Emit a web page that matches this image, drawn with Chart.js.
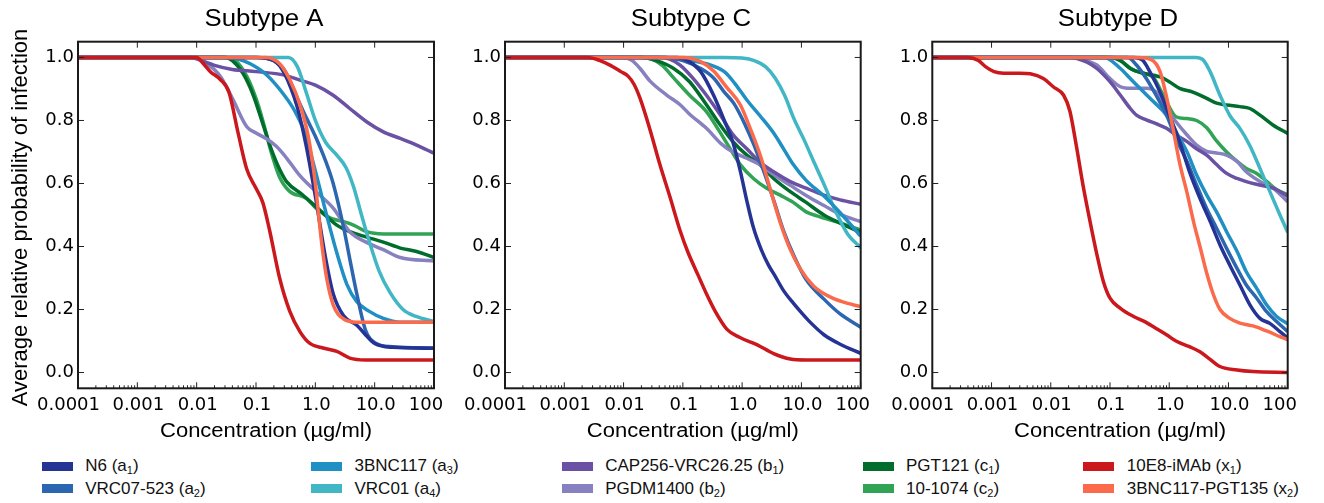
<!DOCTYPE html>
<html>
<head>
<meta charset="utf-8">
<title>Subtypes A, C, D</title>
<script src="https://cdn.jsdelivr.net/npm/chart.js@4.4.1/dist/chart.umd.min.js"></script>
<style>
  body { margin: 0; background: #fff; width: 1324px; height: 503px; overflow: hidden; position: relative;
         font-family: "Liberation Sans", Arial, sans-serif; }
  canvas { position: absolute; top: 0; }
  .lg-box { position: absolute; width: 31px; height: 9px; }
  .lg-txt { position: absolute; height: 20px; line-height: 20px; font-size: 17px; color: #111; white-space: nowrap; }
  .lg-txt sub { font-size: 11px; line-height: 0; vertical-align: -3px; }
</style>
</head>
<body>
<canvas id="panelA" width="450" height="450" style="left:0px"></canvas>
<canvas id="panelC" width="445" height="450" style="left:445px"></canvas>
<canvas id="panelD" width="450" height="450" style="left:874px"></canvas>
<div id="legend"></div>

<script>
// ── Séries (ordre de la légende) ─────────────────────────────────
const seriesNames = ["N6", "VRC07-523", "3BNC117", "VRC01", "CAP256-VRC26.25",
                     "PGDM1400", "PGT121", "10-1074", "10E8-iMAb", "3BNC117-PGT135"];
const seriesTags  = ["a", "a", "a", "a", "b", "b", "c", "c", "x", "x"];
const seriesSubs  = ["1", "2", "3", "4", "1", "2", "1", "2", "1", "2"];
const seriesColors = ["#253494", "#2c66b0", "#1f8fc4", "#41b6c4", "#6a51a3",
                      "#8781bf", "#006d2c", "#31a354", "#cb181d", "#fb6a4a"];

// ── Axes ─────────────────────────────────────────────────────────
const xTicks      = [0.0001, 0.001, 0.01, 0.1, 1, 10, 100];
const xTickLabels = ["0.0001", "0.001", "0.01", "0.1", "1.0", "10.0", "100"];
const yTicks      = [0, 0.2, 0.4, 0.6, 0.8, 1.0];
const xTitle = "Concentration (\u00b5g/ml)";
const yTitle = "Average relative probability of infection";

// ── Subtype A : [concentration, probabilité] ─────────────────────
const A_N6      = [[1e-4,1],[0.1,1],[0.2,0.99],[0.3,0.95],[0.5,0.84],[0.7,0.72],[1,0.56],[1.5,0.36],[2,0.25],[3,0.18],[5,0.15],[7,0.12],[10,0.092],[20,0.08],[100,0.077]];
const A_VRC07   = [[1e-4,1],[0.1,1],[0.2,0.99],[0.3,0.96],[0.5,0.87],[0.7,0.81],[1,0.75],[1.5,0.67],[2,0.6],[3,0.46],[4,0.34],[5,0.25],[7,0.135],[10,0.095],[20,0.082],[100,0.078]];
const A_3BNC117 = [[1e-4,1],[0.03,1],[0.05,0.995],[0.08,0.98],[0.15,0.945],[0.3,0.88],[0.45,0.83],[0.65,0.765],[1,0.64],[1.5,0.51],[2.3,0.38],[3.4,0.28],[5,0.225],[8,0.195],[14,0.172],[27,0.16],[100,0.16]];
const A_VRC01   = [[1e-4,1],[0.35,1],[0.5,0.97],[0.7,0.89],[1,0.8],[1.5,0.73],[2.3,0.69],[3.3,0.65],[4.4,0.59],[6,0.5],[8,0.42],[12,0.32],[18,0.255],[30,0.2],[50,0.178],[100,0.162]];
const A_CAP256  = [[1e-4,1],[0.008,1],[0.012,0.99],[0.02,0.975],[0.04,0.962],[0.1,0.955],[0.3,0.944],[0.55,0.928],[1,0.912],[2,0.88],[3.8,0.838],[7.3,0.796],[14,0.764],[27,0.743],[51,0.722],[100,0.696]];
const A_PGDM    = [[1e-4,1],[0.008,1],[0.015,0.98],[0.025,0.94],[0.04,0.87],[0.07,0.78],[0.1,0.76],[0.15,0.742],[0.22,0.718],[0.33,0.68],[0.55,0.625],[1,0.576],[2,0.522],[3.8,0.447],[7.3,0.413],[14,0.39],[27,0.365],[100,0.354]];
const A_PGT121  = [[1e-4,1],[0.03,1],[0.04,0.99],[0.06,0.95],[0.09,0.88],[0.13,0.79],[0.18,0.71],[0.25,0.645],[0.33,0.605],[0.6,0.565],[1.2,0.515],[2.3,0.468],[3.8,0.447],[7.3,0.43],[14,0.414],[27,0.395],[51,0.384],[100,0.365]];
const A_1074    = [[1e-4,1],[0.03,1],[0.045,0.99],[0.07,0.94],[0.1,0.87],[0.13,0.8],[0.18,0.7],[0.25,0.62],[0.37,0.575],[0.7,0.553],[1.05,0.52],[1.8,0.49],[3,0.479],[4.4,0.468],[7.3,0.447],[14,0.44],[100,0.44]];
const A_10E8    = [[1e-4,1],[0.01,1],[0.013,0.98],[0.017,0.955],[0.025,0.93],[0.035,0.89],[0.05,0.76],[0.07,0.645],[0.1,0.585],[0.13,0.54],[0.17,0.45],[0.25,0.3],[0.37,0.195],[0.55,0.13],[0.8,0.093],[1.4,0.077],[2.3,0.067],[3.8,0.046],[7,0.04],[100,0.04]];
const A_3BPGT   = [[1e-4,1],[0.15,1],[0.25,0.98],[0.37,0.93],[0.55,0.85],[0.76,0.75],[1,0.6],[1.15,0.49],[1.3,0.4],[1.55,0.3],[2,0.215],[3,0.17],[5,0.16],[100,0.16]];

// ── Subtype C ────────────────────────────────────────────────────
const C_N6      = [[1e-4,1],[0.08,1],[0.12,0.99],[0.2,0.955],[0.33,0.88],[0.5,0.8],[0.7,0.73],[0.93,0.64],[1.2,0.545],[1.55,0.46],[2.1,0.39],[2.8,0.34],[3.5,0.31],[5,0.26],[7.3,0.22],[10,0.19],[14,0.16],[24,0.12],[45,0.09],[100,0.061]];
const C_VRC07   = [[1e-4,1],[0.05,1],[0.1,0.99],[0.2,0.965],[0.33,0.935],[0.5,0.89],[0.72,0.855],[1.1,0.79],[1.6,0.72],[2.4,0.63],[3.5,0.54],[5,0.45],[7.5,0.37],[12,0.295],[24,0.233],[45,0.186],[100,0.144]];
const C_3BNC117 = [[1e-4,1],[0.05,1],[0.13,0.99],[0.25,0.98],[0.5,0.955],[0.75,0.918],[1.2,0.865],[2,0.815],[3.4,0.76],[5,0.71],[7.3,0.66],[12,0.61],[24,0.56],[45,0.507],[100,0.433]];
const C_VRC01   = [[1e-4,1],[0.5,1],[1,0.998],[1.6,0.99],[2.5,0.97],[3.6,0.935],[5.2,0.88],[7.5,0.805],[11,0.74],[17,0.66],[25,0.59],[37,0.515],[60,0.44],[100,0.396]];
const C_CAP256  = [[1e-4,1],[0.04,1],[0.06,0.995],[0.09,0.976],[0.15,0.933],[0.25,0.88],[0.43,0.817],[0.7,0.755],[1.2,0.71],[2,0.668],[3.4,0.637],[6.5,0.606],[12,0.585],[24,0.563],[45,0.548],[100,0.534]];
const C_PGDM    = [[1e-4,1],[0.01,1],[0.014,0.99],[0.019,0.965],[0.028,0.925],[0.054,0.88],[0.09,0.85],[0.13,0.82],[0.25,0.775],[0.45,0.725],[0.7,0.7],[1.2,0.68],[2,0.66],[3.4,0.628],[6.5,0.594],[12,0.562],[24,0.53],[45,0.502],[100,0.479]];
const C_PGT121  = [[1e-4,1],[0.02,1],[0.036,0.99],[0.07,0.965],[0.13,0.923],[0.25,0.85],[0.43,0.785],[0.7,0.733],[1.2,0.69],[2,0.66],[3.4,0.616],[6.5,0.574],[12,0.54],[24,0.5],[45,0.474],[100,0.445]];
const C_1074    = [[1e-4,1],[0.02,1],[0.03,0.995],[0.045,0.975],[0.07,0.935],[0.13,0.88],[0.25,0.828],[0.4,0.77],[0.63,0.71],[0.93,0.66],[1.55,0.616],[2.6,0.585],[4.4,0.563],[7.3,0.54],[12,0.51],[20,0.495],[45,0.475],[100,0.452]];
const C_10E8    = [[1e-4,1],[0.0025,1],[0.004,0.99],[0.006,0.975],[0.009,0.955],[0.012,0.94],[0.015,0.915],[0.019,0.87],[0.028,0.77],[0.041,0.66],[0.06,0.56],[0.09,0.45],[0.12,0.385],[0.18,0.31],[0.25,0.25],[0.35,0.195],[0.55,0.138],[0.9,0.112],[1.8,0.088],[3.4,0.06],[6.5,0.043],[12,0.04],[100,0.04]];
const C_3BPGT   = [[1e-4,1],[0.1,1],[0.2,0.987],[0.33,0.957],[0.55,0.905],[0.93,0.85],[1.4,0.77],[2.1,0.68],[3,0.58],[4.5,0.47],[6.5,0.39],[9.5,0.33],[16,0.275],[27,0.245],[50,0.224],[100,0.209]];

// ── Subtype D ────────────────────────────────────────────────────
const D_N6      = [[1e-4,1],[0.25,1],[0.36,0.99],[0.47,0.955],[0.7,0.89],[1,0.817],[1.5,0.733],[2.2,0.637],[3.3,0.553],[4.9,0.48],[7.2,0.405],[10.6,0.34],[15.6,0.278],[23,0.215],[34,0.172],[50,0.156],[74,0.13],[100,0.11]];
const D_VRC07   = [[1e-4,1],[0.2,1],[0.28,0.976],[0.41,0.933],[0.6,0.88],[0.9,0.817],[1.3,0.743],[2,0.669],[2.9,0.595],[4.3,0.52],[6.3,0.458],[9.3,0.394],[14,0.33],[20,0.278],[30,0.236],[44,0.193],[65,0.162],[100,0.13]];
const D_3BNC117 = [[1e-4,1],[0.08,1],[0.15,0.965],[0.22,0.933],[0.32,0.902],[0.54,0.86],[0.9,0.817],[1.3,0.764],[2,0.7],[2.9,0.627],[4.3,0.563],[6.3,0.51],[9.3,0.447],[14,0.384],[20,0.32],[30,0.267],[44,0.215],[65,0.178],[100,0.155]];
const D_VRC01   = [[1e-4,1],[2.8,1],[3.7,0.993],[4.9,0.955],[7.2,0.88],[10.6,0.815],[15.6,0.775],[23,0.72],[34,0.648],[50,0.574],[74,0.5],[100,0.445]];
const D_CAP256  = [[1e-4,1],[0.02,1],[0.04,0.986],[0.06,0.965],[0.1,0.923],[0.15,0.88],[0.22,0.838],[0.28,0.817],[0.41,0.802],[0.6,0.79],[0.9,0.775],[1.3,0.754],[2,0.733],[2.9,0.71],[4.3,0.69],[6.3,0.66],[9.3,0.632],[14,0.616],[20,0.606],[34,0.595],[57,0.585],[100,0.56]];
const D_PGDM    = [[1e-4,1],[0.025,1],[0.04,0.99],[0.06,0.976],[0.1,0.933],[0.15,0.907],[0.22,0.902],[0.41,0.902],[0.6,0.89],[0.9,0.838],[1.3,0.796],[2,0.754],[2.9,0.722],[4.3,0.702],[6.3,0.697],[9.3,0.69],[14,0.67],[20,0.637],[34,0.606],[57,0.585],[100,0.542]];
const D_PGT121  = [[1e-4,1],[0.1,1],[0.15,0.99],[0.22,0.965],[0.36,0.95],[0.54,0.944],[0.7,0.938],[1,0.923],[1.5,0.902],[2.5,0.89],[4.3,0.87],[6.3,0.855],[9.3,0.849],[15.6,0.844],[23,0.838],[34,0.817],[57,0.785],[100,0.759]];
const D_1074    = [[1e-4,1],[0.12,1],[0.15,0.99],[0.25,0.96],[0.4,0.948],[0.55,0.935],[0.7,0.9],[0.9,0.86],[1.3,0.812],[2,0.806],[2.9,0.8],[4.3,0.777],[6.3,0.735],[9.3,0.7],[14,0.67],[20,0.648],[30,0.632],[44,0.607],[65,0.58],[100,0.565]];
const D_10E8    = [[1e-4,1],[0.0004,1],[0.0006,0.99],[0.0008,0.97],[0.0011,0.955],[0.0016,0.95],[0.003,0.95],[0.0045,0.948],[0.0075,0.933],[0.011,0.907],[0.0165,0.88],[0.021,0.83],[0.027,0.72],[0.035,0.595],[0.046,0.48],[0.06,0.375],[0.077,0.29],[0.1,0.236],[0.15,0.204],[0.25,0.178],[0.4,0.16],[0.6,0.14],[0.9,0.12],[1.3,0.1],[2.2,0.082],[3.3,0.066],[4.9,0.042],[7,0.02],[14,0.008],[26,0.003],[100,0]];
const D_3BPGT   = [[1e-4,1],[0.3,1],[0.5,0.993],[0.7,0.955],[0.9,0.875],[1.17,0.77],[1.5,0.665],[2,0.57],[2.6,0.475],[3.3,0.4],[4.3,0.315],[5.5,0.25],[7.2,0.2],[10.5,0.172],[15.6,0.157],[26,0.148],[44,0.132],[74,0.114],[100,0.104]];

// ── Config globale ───────────────────────────────────────────────
Chart.defaults.font.family = "'DejaVu Sans', sans-serif";
Chart.defaults.color = "#000";

// ── Plugin : cadre + graduations intérieures (style matplotlib) ──
const frameTicks = {
  id: "frameTicks",
  afterDatasetsDraw(chart) {
    const { ctx, chartArea: a, scales: { x, y } } = chart;
    ctx.save();
    ctx.strokeStyle = "#222";
    ctx.lineWidth = 1;
    ctx.beginPath();
    xTicks.forEach((v, i) => {
      const px = x.getPixelForValue(v);
      ctx.moveTo(px, a.bottom); ctx.lineTo(px, a.bottom - 6);
      ctx.moveTo(px, a.top);    ctx.lineTo(px, a.top + 6);
      if (i < xTicks.length - 1) {
        for (let k = 2; k < 10; k++) {
          const pm = x.getPixelForValue(v * k);
          ctx.moveTo(pm, a.bottom); ctx.lineTo(pm, a.bottom - 3);
        }
      }
    });
    yTicks.forEach(v => {
      const py = y.getPixelForValue(v);
      ctx.moveTo(a.left, py);  ctx.lineTo(a.left + 6, py);
      ctx.moveTo(a.right, py); ctx.lineTo(a.right - 6, py);
    });
    ctx.stroke();
    ctx.lineWidth = 2;
    ctx.strokeStyle = "#1a1a1a";
    ctx.strokeRect(a.left, a.top, a.right - a.left, a.bottom - a.top);
    ctx.restore();
  }
};

function stretchedText(ctx, text, cx, baseline, font, sx) {
  ctx.save();
  ctx.translate(cx, baseline);
  ctx.scale(sx, 1);
  ctx.font = font;
  ctx.textAlign = "center";
  ctx.textBaseline = "alphabetic";
  ctx.fillText(text, 0, 0);
  ctx.restore();
}

// ── Plugin : titres + libellés de l'axe x ───────────────────────
const panelText = {
  id: "panelText",
  afterDraw(chart, args, opts) {
    const { ctx, chartArea: a, scales: { x } } = chart;
    const cx = (a.left + a.right) / 2;
    ctx.save();
    ctx.fillStyle = "#000";
    ctx.font = "18px 'DejaVu Sans'";
    ctx.textAlign = "center";
    ctx.textBaseline = "alphabetic";
    xTicks.forEach((v, i) => {
      const shift = i === 0 ? -9.5 : (i === xTicks.length - 1 ? -8 : 1);
      ctx.fillText(xTickLabels[i], x.getPixelForValue(v) + shift, 409.5);
    });
    stretchedText(ctx, opts.title, cx + 8, 25.7, "23px 'Liberation Sans'", 1.12);
    stretchedText(ctx, xTitle, cx + 10, 437.3, "20px 'Liberation Sans'", 1.1);
    if (opts.showYTitle) {
      ctx.translate(26.7, 217.5);
      ctx.rotate(-Math.PI / 2);
      ctx.font = "22px 'Liberation Sans'";
      ctx.fillText(yTitle, 0, 0);
    }
    ctx.restore();
  }
};

// ── Panneau ──────────────────────────────────────────────────────
function panel(canvasId, title, series, yWidth, padRight, showYTitle) {
  const ctx = document.getElementById(canvasId);
  const datasets = series.map((pts, i) => ({
    label: seriesNames[i],
    data: pts.map(([cx, p]) => ({ x: cx, y: p })),
    borderColor: seriesColors[i],
    backgroundColor: seriesColors[i],
    borderWidth: 3.5,
    pointRadius: 0,
    fill: false,
    cubicInterpolationMode: "monotone",
    order: i === 8 ? 0 : (i === 9 ? 1 : 2),   // 10E8 au-dessus, puis 3BNC117-PGT135
  }));
  new Chart(ctx, {
    type: "line",
    data: { datasets },
    plugins: [frameTicks, panelText],
    options: {
      responsive: false,
      animation: false,
      layout: { padding: { top: 41.7, right: padRight, bottom: 0, left: 0 } },
      plugins: {
        legend: { display: false },
        tooltip: { enabled: false },
        panelText: { title, showYTitle },
      },
      scales: {
        x: {
          type: "logarithmic",
          min: 0.0001,
          max: 100,
          grid: { display: false, drawTicks: false },
          border: { display: false },
          ticks: { display: false },
          afterFit: s => { s.height = 61.7; s.paddingLeft = 0; s.paddingRight = 0; },
        },
        y: {
          type: "linear",
          min: -0.05,
          max: 1.05,
          grid: { display: false, drawTicks: false },
          border: { display: false },
          afterBuildTicks: s => { s.ticks = yTicks.map(v => ({ value: v })); },
          ticks: {
            padding: 4,
            color: "#000",
            font: { family: "'DejaVu Sans'", size: 18 },
            callback: v => Number(v).toFixed(1),
          },
          afterFit: s => { s.width = yWidth; },
        },
      },
    },
  });
}

// ── Légende (HTML) ───────────────────────────────────────────────
function buildLegend() {
  const boxLeft = [41.7, 311, 561.7, 862.5, 1083.3];
  const rowMid  = [466, 488.5];
  const root = document.getElementById("legend");
  seriesNames.forEach((name, i) => {
    const col = Math.floor(i / 2), row = i % 2;
    const box = document.createElement("div");
    box.className = "lg-box";
    box.style.left = boxLeft[col] + "px";
    box.style.top = (rowMid[row] - 4.5) + "px";
    box.style.background = seriesColors[i];
    const txt = document.createElement("div");
    txt.className = "lg-txt";
    txt.style.left = (boxLeft[col] + 43.5) + "px";
    txt.style.top = (rowMid[row] - 10) + "px";
    txt.innerHTML = name + " (" + seriesTags[i] + "<sub>" + seriesSubs[i] + "</sub>)";
    root.appendChild(box);
    root.appendChild(txt);
  });
}

// ── Init ─────────────────────────────────────────────────────────
panel("panelA", "Subtype A",
  [A_N6, A_VRC07, A_3BNC117, A_VRC01, A_CAP256, A_PGDM, A_PGT121, A_1074, A_10E8, A_3BPGT], 78, 16, true);
panel("panelC", "Subtype C",
  [C_N6, C_VRC07, C_3BNC117, C_VRC01, C_CAP256, C_PGDM, C_PGT121, C_1074, C_10E8, C_3BPGT], 60, 29.3, false);
panel("panelD", "Subtype D",
  [D_N6, D_VRC07, D_3BNC117, D_VRC01, D_CAP256, D_PGDM, D_PGT121, D_1074, D_10E8, D_3BPGT], 58.3, 36.3, false);
buildLegend();
</script>
</body>
</html>
